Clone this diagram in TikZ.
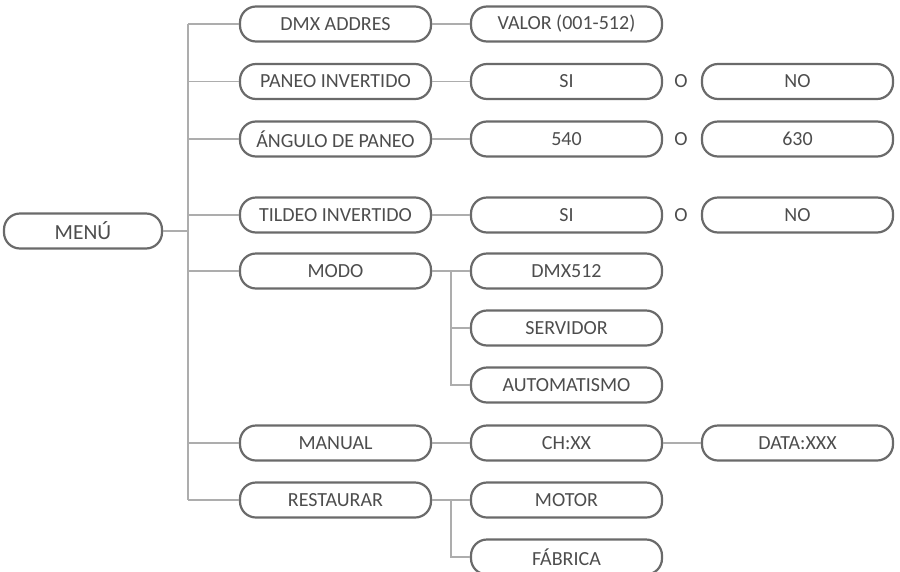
\documentclass[tikz,border=0pt]{standalone}
\usepackage{fontspec}
\setmainfont{Carlito}
\definecolor{boxgray}{HTML}{6A6A6A}
\definecolor{linegray}{HTML}{ADADAD}
\definecolor{textgray}{HTML}{4D4D4D}
\begin{document}
\begin{tikzpicture}
[x=1pt,y=-1pt,
  boxDecorate/.style={draw=boxgray,line width=2.2pt,rounded corners=16pt,
    minimum width=191pt,minimum height=35pt,inner sep=0pt,text=textgray,
    font=\fontsize{20}{22}\selectfont},
  menuDecorate/.style={boxDecorate,minimum width=158pt,
    font=\fontsize{21.5}{24}\selectfont},
  orDecorate/.style={text=textgray,inner sep=0pt,font=\fontsize{20}{22}\selectfont},
  lineDecorate/.style={-,draw=linegray,line width=1.4pt}]
\useasboundingbox (0,0) rectangle (900,571);
%% root
\node (menu) at (83,231) [menuDecorate] {MENÚ};
\coordinate (trunk) at (188,231);
%% first level
\foreach \nodename/\y/\label in {dmx/24/DMX ADDRES, paneo/81.5/PANEO INVERTIDO,
  angulo/139/ÁNGULO DE PANEO, tildeo/215/TILDEO INVERTIDO, modo/271/MODO,
  manual/443/MANUAL, restaurar/500/RESTAURAR}
{
  \node (\nodename) at (335.5,\y) [boxDecorate] {\label};
}
%% second level
\foreach \nodename/\y/\label in {valor/24/VALOR (001-512), paneoSi/81.5/SI,
  ang540/139/540, tildeoSi/215/SI, dmx512/271/DMX512, servidor/328/SERVIDOR,
  automatismo/385/AUTOMATISMO, ch/443/CH:XX, motor/500/MOTOR, fabrica/557/FÁBRICA}
{
  \node (\nodename) at (566.5,\y) [boxDecorate] {\label};
}
%% third level
\foreach \nodename/\y/\label in {paneoNo/81.5/NO, ang630/139/630,
  tildeoNo/215/NO, data/443/DATA:XXX}
{
  \node (\nodename) at (797.5,\y) [boxDecorate] {\label};
}
\foreach \nodename/\y in {orPaneo/81.5, orAngulo/139, orTildeo/215}
{
  \node (\nodename) at (681,\y) [orDecorate] {O};
}
%% edges or lines
\draw[lineDecorate] (menu.east) -- (trunk);
\draw[lineDecorate] (trunk |- dmx.west) -- (trunk |- restaurar.west);
\foreach \endnode in {dmx, paneo, angulo, tildeo, modo, manual, restaurar}
{
  \draw[lineDecorate] (trunk |- \endnode.west) -- (\endnode.west);
}
\path
\foreach \startnode/\endnode in {
  dmx/valor, paneo/paneoSi, angulo/ang540, tildeo/tildeoSi, modo/dmx512,
  manual/ch, restaurar/motor, ch/data}
{
  (\startnode.east) edge[lineDecorate] (\endnode.west)
};
\coordinate (modoFork) at (451,271);
\coordinate (restaurarFork) at (451,500);
\draw[lineDecorate] (modoFork) |- (servidor.west);
\draw[lineDecorate] (modoFork) |- (automatismo.west);
\draw[lineDecorate] (restaurarFork) |- (fabrica.west);
\end{tikzpicture}
\end{document}
